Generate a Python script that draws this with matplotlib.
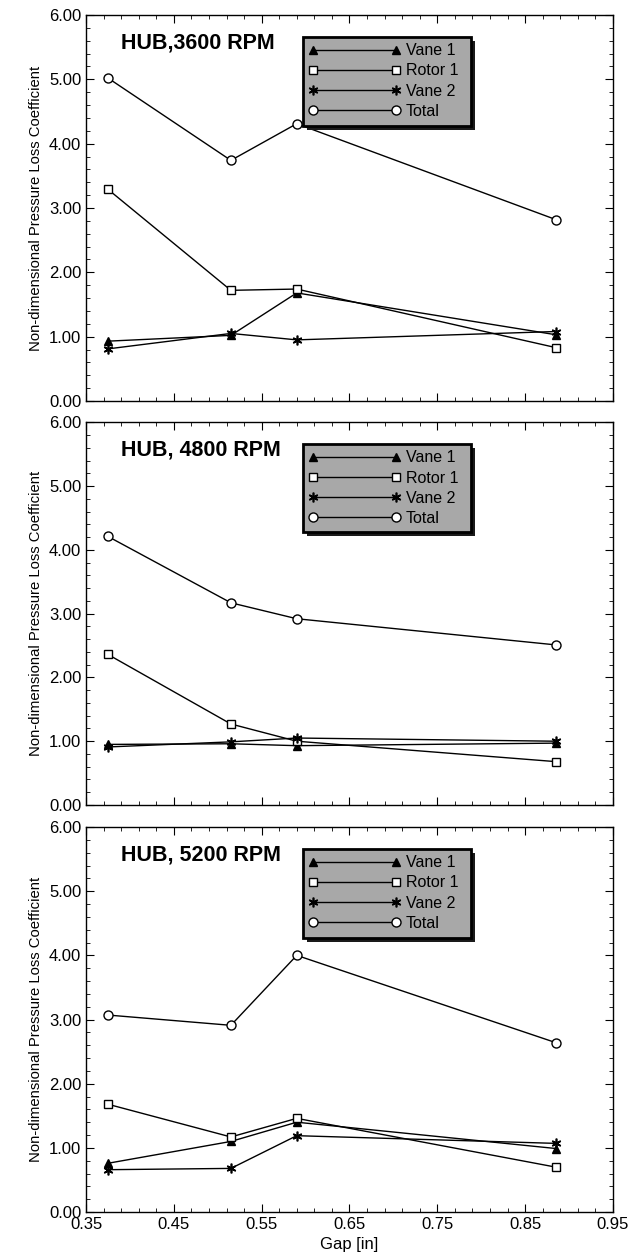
import numpy as np
import matplotlib
matplotlib.use('Agg')
import matplotlib.pyplot as plt
from matplotlib.patches import Rectangle
from matplotlib.ticker import FixedLocator, MultipleLocator, FormatStrFormatter

plt.rcParams['font.family'] = ['Liberation Sans', 'DejaVu Sans']

# gap values [in]
gap = [0.375, 0.515, 0.59, 0.885]

titles = ['HUB,3600 RPM', 'HUB, 4800 RPM', 'HUB, 5200 RPM']

# loss coefficients per panel
vane1 = [[0.93, 1.02, 1.68, 1.03],
         [0.95, 0.96, 0.93, 0.97],
         [0.76, 1.10, 1.40, 0.99]]
rotor1 = [[3.29, 1.72, 1.74, 0.83],
          [2.36, 1.27, 1.00, 0.68],
          [1.68, 1.17, 1.46, 0.70]]
vane2 = [[0.81, 1.05, 0.95, 1.08],
         [0.91, 0.99, 1.05, 1.00],
         [0.66, 0.68, 1.19, 1.07]]
total = [[5.02, 3.74, 4.31, 2.82],
         [4.21, 3.17, 2.92, 2.51],
         [3.07, 2.91, 4.00, 2.64]]

fig = plt.figure(figsize=(6.31, 12.59), dpi=100)

# panel rectangles (left, bottom, width, height)
rects = [[0.1363, 0.6815, 0.835, 0.3066],
         [0.1363, 0.3606, 0.835, 0.3040],
         [0.1363, 0.0373, 0.835, 0.3058]]

# legend box in axes coords
lx0, lx1 = 0.412, 0.730
ly0, ly1 = 0.712, 0.943

for i in range(3):
	ax = fig.add_axes(rects[i])
	ax.plot(gap, vane1[i], '-', color='k', lw=1, marker='^', ms=6, mfc='k', label='Vane 1')
	ax.plot(gap, rotor1[i], '-', color='k', lw=1, marker='s', ms=6, mfc='white', label='Rotor 1')
	ax.plot(gap, vane2[i], '-', color='k', lw=1, marker=(6, 2, 0), ms=7, mew=1.2, label='Vane 2')
	ax.plot(gap, total[i], '-', color='k', lw=1, marker='o', ms=6.5, mfc='white', label='Total')

	ax.set_xlim(0.35, 0.95)
	ax.set_ylim(0, 6)
	ax.xaxis.set_major_locator(FixedLocator(np.arange(0.35, 0.951, 0.1)))
	ax.xaxis.set_minor_locator(FixedLocator(np.arange(0.35, 0.951, 0.02)))
	ax.yaxis.set_major_locator(MultipleLocator(1))
	ax.yaxis.set_minor_locator(MultipleLocator(0.2))
	ax.yaxis.set_major_formatter(FormatStrFormatter('%.2f'))
	ax.xaxis.set_major_formatter(FormatStrFormatter('%.2f'))
	ax.tick_params(which='both', direction='in', top=True, right=True, labelsize=12)
	ax.tick_params(which='major', length=6)
	ax.tick_params(which='minor', length=3)
	for s in ax.spines.values():
		s.set_linewidth(1)
	if i < 2:
		ax.tick_params(labelbottom=False)
	else:
		ax.set_xlabel('Gap [in]', fontsize=12)
	ax.set_ylabel('Non-dimensional Pressure Loss Coefficient', fontsize=10.7)

	ax.text(0.066, 0.955, titles[i], transform=ax.transAxes, fontsize=15.5,
		fontweight='bold', va='top', ha='left')

	# grey legend box with drop shadow
	sdx, sdy = 4.0 / 527, 4.0 / 385
	ax.add_patch(Rectangle((lx0 + sdx, ly0 - sdy), lx1 - lx0, ly1 - ly0,
		transform=ax.transAxes, facecolor='#1a1a1a', edgecolor='none', zorder=5))
	ax.add_patch(Rectangle((lx0, ly0), lx1 - lx0, ly1 - ly0,
		transform=ax.transAxes, facecolor='#a8a8a8', edgecolor='k', lw=2, zorder=6))

	leg = ax.legend(loc='upper left', bbox_to_anchor=(lx0, ly1 - 0.004), fontsize=11.5,
		frameon=False, numpoints=2, handlelength=5.8, borderpad=0.3, labelspacing=0.32,
		handletextpad=0.35, borderaxespad=0)
	leg.set_zorder(7)

fig.savefig('out.png', dpi=100)
